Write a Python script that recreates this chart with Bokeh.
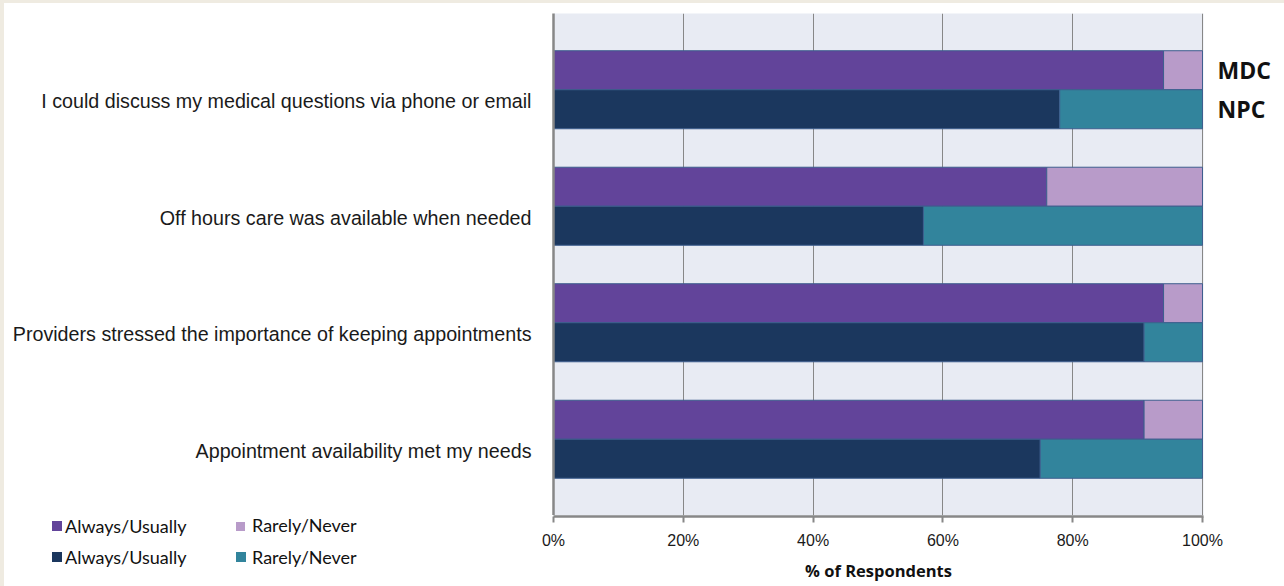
from bokeh.plotting import figure
from bokeh.models import (Range1d, FixedTicker, PrintfTickFormatter,
                          ColumnDataSource, Spacer, Div)
from bokeh.layouts import row, column
from bokeh.core.properties import value
from bokeh.embed import file_html
from bokeh.resources import INLINE

# ---------------- data ----------------
questions = [
    "I could discuss my medical questions via phone or email",
    "Off hours care was available when needed",
    "Providers stressed the importance of keeping appointments",
    "Appointment availability met my needs",
]
mdc_always = [94, 76, 94, 91]
npc_always = [78, 57, 91, 75]
mdc_rarely = [100 - v for v in mdc_always]
npc_rarely = [100 - v for v in npc_always]
x_ticks = [0, 20, 40, 60, 80, 100]
series_names = ["MDC", "NPC"]
legend_labels = ["Always/Usually", "Rarely/Never"]

# ---------------- style ----------------
C_MDC_A = "#62449A"
C_MDC_R = "#B89BC9"
C_NPC_A = "#1B375E"
C_NPC_R = "#32849C"
OUTLINE = "#3E5E8E"
GRAY = "#878787"
BEIGE = "#EFEBE1"
PLOT_BG = "#E8EBF3"

pad = 0.6545
off = 0.1674
bh = 0.335

idx = list(range(len(questions)))
mdc_y = [i - off for i in idx]
npc_y = [i + off for i in idx]

xr = Range1d(0, 100.154)
yr = Range1d(len(questions) - 1 + pad, -pad)

# ---------------- main chart ----------------
p = figure(width=1200, height=512, output_backend="svg", toolbar_location=None,
           x_range=xr, y_range=yr, x_axis_location=None,
           min_border_left=549, min_border_right=1, min_border_top=10,
           min_border_bottom=0)
p.background_fill_color = PLOT_BG
p.border_fill_color = "white"
p.outline_line_color = None

src = ColumnDataSource(dict(mdc_y=mdc_y, npc_y=npc_y, ma=mdc_always, mr=mdc_rarely,
                            na=npc_always, nr=npc_rarely,
                            zero=[0] * len(idx), full=[100] * len(idx)))

p.hbar(y="mdc_y", left="zero", right="ma", height=bh, source=src,
       fill_color=C_MDC_A, line_color=OUTLINE, line_width=1)
p.hbar(y="mdc_y", left="ma", right="full", height=bh, source=src,
       fill_color=C_MDC_R, line_color=OUTLINE, line_width=1)
p.hbar(y="npc_y", left="zero", right="na", height=bh, source=src,
       fill_color=C_NPC_A, line_color=OUTLINE, line_width=1)
p.hbar(y="npc_y", left="na", right="full", height=bh, source=src,
       fill_color=C_NPC_R, line_color=OUTLINE, line_width=1)

yt = [i + 0.1 for i in idx]
p.yaxis.ticker = FixedTicker(ticks=yt)
p.yaxis.major_label_overrides = {t: q for t, q in zip(yt, questions)}
p.yaxis.axis_line_color = GRAY
p.yaxis.axis_line_width = 2.5
p.yaxis.major_tick_line_color = None
p.yaxis.minor_tick_line_color = None
p.yaxis.major_label_text_font = "Liberation Sans"
p.yaxis.major_label_text_font_size = "19.7px"
p.yaxis.major_label_text_color = "#1a1a1a"
p.yaxis.major_label_standoff = 16

p.xgrid.ticker = FixedTicker(ticks=x_ticks)
p.xgrid.grid_line_color = GRAY
p.xgrid.grid_line_width = 1
p.ygrid.grid_line_color = None

# ---------------- right labels (MDC / NPC) ----------------
pr = figure(width=80, height=512, output_backend="svg", toolbar_location=None,
            x_range=Range1d(0, 80), y_range=yr, x_axis_location=None,
            y_axis_location=None, min_border_left=0, min_border_right=0,
            min_border_top=10, min_border_bottom=0)
pr.grid.visible = False
pr.outline_line_color = None
pr.background_fill_color = "white"
pr.border_fill_color = "white"
pr.text(x=[13, 13], y=[mdc_y[0], npc_y[0]], text=series_names,
        text_font=value("Open Sans"), text_font_style="bold",
        text_font_size="23px", text_baseline="middle", text_color="#111111")

# ---------------- legend (HTML) ----------------
leg_colors = [C_MDC_A, C_MDC_R, C_NPC_A, C_NPC_R]
leg_text = [legend_labels[0], legend_labels[1], legend_labels[0], legend_labels[1]]
leg_sq = [(48, 6, 10), (232, 7, 9), (48, 37, 10), (232, 37, 10)]
leg_tx = [(61, 1), (248, 0), (61, 32), (248, 32)]
parts = []
for col, lab, (sx, sy, sz), (tx, ty) in zip(leg_colors, leg_text, leg_sq, leg_tx):
    parts.append(
        f'<span style="position:absolute;left:{sx}px;top:{sy}px;width:{sz}px;'
        f'height:{sz}px;background:{col};"></span>'
        f'<span style="position:absolute;left:{tx}px;top:{ty}px;line-height:20px;'
        f'white-space:nowrap;">{lab}</span>')
html = ('<div style="position:relative;width:520px;height:71px;'
        'font-family:Lato;font-size:18px;color:#111111;background:white;">'
        + "".join(parts) + '</div>')
pl = Div(text=html, width=520, height=71, margin=0)

# ---------------- x axis strip ----------------
px = figure(width=760, height=71, output_backend="svg", toolbar_location=None,
            x_range=xr, y_range=Range1d(0, 1), y_axis_location=None,
            min_border_left=29, min_border_right=81, min_border_top=0,
            min_border_bottom=70)
px.background_fill_color = PLOT_BG
px.border_fill_color = "white"
px.outline_line_color = None
px.ygrid.grid_line_color = None
px.xgrid.ticker = FixedTicker(ticks=x_ticks)
px.xgrid.grid_line_color = GRAY
px.xaxis.ticker = FixedTicker(ticks=x_ticks)
px.xaxis.formatter = PrintfTickFormatter(format="%d%%")
px.xaxis.axis_line_color = GRAY
px.xaxis.axis_line_width = 2.5
px.xaxis.major_tick_line_color = GRAY
px.xaxis.major_tick_line_width = 2
px.xaxis.major_tick_in = 0
px.xaxis.major_tick_out = 6
px.xaxis.minor_tick_line_color = None
px.xaxis.major_label_text_font = "Liberation Sans"
px.xaxis.major_label_text_font_size = "16px"
px.xaxis.major_label_text_color = "#1a1a1a"
px.xaxis.major_label_standoff = 9
px.xaxis.axis_label = "% of Respondents"
px.xaxis.axis_label_text_font = "Open Sans"
px.xaxis.axis_label_text_font_style = "bold"
px.xaxis.axis_label_text_font_size = "16.5px"
px.xaxis.axis_label_text_color = "#111111"
px.xaxis.axis_label_standoff = 7

top_strip = Spacer(width=1284, height=3, styles={"background-color": BEIGE})
left_strip = Spacer(width=4, height=583, styles={"background-color": BEIGE})

layout = column(
    top_strip,
    row(left_strip,
        column(row(p, pr), row(pl, px))),
)

open("out.html", "w").write(file_html(layout, INLINE))
